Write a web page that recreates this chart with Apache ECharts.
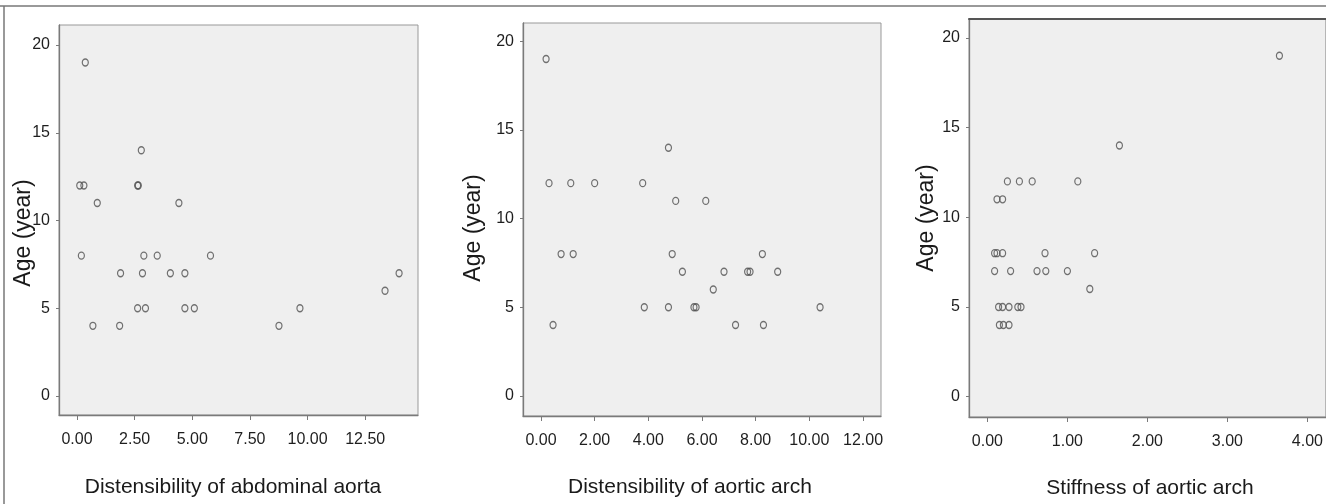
<!DOCTYPE html>
<html>
<head>
<meta charset="utf-8">
<script src="https://cdn.jsdelivr.net/npm/echarts@6/dist/echarts.min.js"></script>
<style>
  html, body { margin: 0; padding: 0; background: #fff; }
  #chart { width: 1326px; height: 504px; }
</style>
</head>
<body>
<div id="chart"></div>
<script>
const chart = echarts.init(document.getElementById("chart"));

// panel 1: distensibility of abdominal aorta vs age
const abdDist = [0.36, 0.12, 0.30, 2.63, 2.66, 0.88, 2.79, 4.42, 0.19, 2.90, 3.48, 5.79, 1.89, 2.84, 4.05, 4.68, 13.97, 13.36, 2.63, 2.97, 4.68, 5.09, 9.67, 0.69, 1.85, 8.76];
const abdAge = [19, 12, 12, 12, 12, 11, 14, 11, 8, 8, 8, 8, 7, 7, 7, 7, 7, 6, 5, 5, 5, 5, 5, 4, 4, 4];

// panel 2: distensibility of aortic arch vs age
const archDist = [0.19, 0.30, 1.11, 2.00, 3.79, 4.75, 5.02, 6.14, 0.75, 1.20, 4.89, 8.25, 5.27, 6.82, 7.70, 7.79, 8.82, 6.42, 3.85, 4.75, 5.70, 5.78, 10.40, 0.45, 7.25, 8.29];
const archAge = [19, 12, 12, 12, 12, 14, 11, 11, 8, 8, 8, 8, 7, 7, 7, 7, 7, 6, 5, 5, 5, 5, 5, 4, 4, 4];

// panel 3: stiffness of aortic arch vs age
const archStiff = [3.65, 1.65, 0.25, 0.40, 0.56, 1.13, 0.12, 0.19, 0.09, 0.12, 0.19, 0.72, 1.34, 0.09, 0.29, 0.62, 0.73, 1.00, 1.28, 0.14, 0.19, 0.27, 0.38, 0.42, 0.15, 0.20, 0.27];
const stiffAge = [19, 14, 12, 12, 12, 12, 11, 11, 8, 8, 8, 8, 8, 7, 7, 7, 7, 7, 6, 5, 5, 5, 5, 5, 4, 4, 4];

// tick labels
const abdTicks = [0, 2.5, 5, 7.5, 10, 12.5];
const archTicks = [0, 2, 4, 6, 8, 10, 12];
const stiffTicks = [0, 1, 2, 3, 4];
const ageTicks = [0, 5, 10, 15, 20];

const xTitles = ["Distensibility of abdominal aorta", "Distensibility of aortic arch", "Stiffness of aortic arch"];
const yTitle = "Age (year)";

const font = "'Liberation Sans', Arial, sans-serif";

function pairs(xs, ys) {
  return xs.map((x, i) => [x, ys[i]]);
}

function xAxisFor(idx, min, max, ticks) {
  return {
    type: "value",
    gridIndex: idx,
    min: min,
    max: max,
    axisLine: { show: true, onZero: false, lineStyle: { color: "#7a7a7a", width: 1.3 } },
    axisTick: { show: true, length: 5, customValues: ticks, lineStyle: { color: "#7a7a7a" } },
    axisLabel: {
      customValues: ticks,
      margin: 17,
      fontSize: 16,
      fontFamily: font,
      color: "#1e1e1e",
      formatter: (v) => v.toFixed(2),
    },
    splitLine: { show: false },
  };
}

function yAxisFor(idx, min, max) {
  return {
    type: "value",
    gridIndex: idx,
    min: min,
    max: max,
    axisLine: { show: true, onZero: false, lineStyle: { color: "#7a7a7a", width: 1.3 } },
    axisTick: { show: true, length: 3, customValues: ageTicks, lineStyle: { color: "#7a7a7a" } },
    axisLabel: {
      customValues: ageTicks,
      margin: 9,
      fontSize: 16,
      fontFamily: font,
      color: "#1e1e1e",
    },
    splitLine: { show: false },
  };
}

function scatterFor(idx, data) {
  return {
    type: "scatter",
    xAxisIndex: idx,
    yAxisIndex: idx,
    data: data,
    symbol: "circle",
    symbolSize: [6, 7],
    itemStyle: { color: "rgba(0,0,0,0)", borderColor: "#505050", borderWidth: 1.3 },
    emphasis: { disabled: true },
  };
}

const gridBox = {
  show: true,
  backgroundColor: "#efefef",
  borderColor: "#999",
  borderWidth: 1,
};

function textEl(x, y, text, rotate, size) {
  return {
    type: "text",
    x: x,
    y: y,
    rotation: rotate ? Math.PI / 2 : 0,
    style: {
      text: text,
      fontSize: size,
      fontFamily: font,
      fill: "#1a1a1a",
      textAlign: "center",
      textVerticalAlign: "middle",
    },
  };
}

const option = {
  backgroundColor: "#fff",
  animation: false,
  grid: [
    Object.assign({ left: 59, top: 25, width: 359, height: 390 }, gridBox),
    Object.assign({ left: 523, top: 23, width: 358, height: 393 }, gridBox),
    Object.assign({ left: 969, top: 19, width: 362, height: 398 }, gridBox),
  ],
  xAxis: [
    xAxisFor(0, -0.78, 14.79, abdTicks),
    xAxisFor(1, -0.67, 12.67, archTicks),
    xAxisFor(2, -0.23, 4.23, stiffTicks),
    {
      // darker top edge on the third panel
      type: "value",
      gridIndex: 2,
      position: "top",
      min: -0.23,
      max: 4.23,
      axisLine: { show: true, onZero: false, lineStyle: { color: "#555", width: 2 } },
      axisTick: { show: false },
      axisLabel: { show: false },
      splitLine: { show: false },
    },
  ],
  yAxis: [
    yAxisFor(0, -1.08, 21.14),
    yAxisFor(1, -1.13, 21.03),
    yAxisFor(2, -1.13, 21.05),
  ],
  series: [
    scatterFor(0, pairs(abdDist, abdAge)),
    scatterFor(1, pairs(archDist, archAge)),
    scatterFor(2, pairs(archStiff, stiffAge)),
  ],
  graphic: [
    // figure frame
    { type: "line", shape: { x1: 0, y1: 6, x2: 1326, y2: 6 }, style: { stroke: "#777", lineWidth: 1.5 } },
    { type: "line", shape: { x1: 4, y1: 6, x2: 4, y2: 504 }, style: { stroke: "#777", lineWidth: 1.5 } },
    textEl(233, 487, xTitles[0], false, 21),
    textEl(690, 487, xTitles[1], false, 21),
    textEl(1150, 488, xTitles[2], false, 21),
    textEl(24, 233, yTitle, true, 23),
    textEl(474, 228, yTitle, true, 23),
    textEl(927, 218, yTitle, true, 23),
  ],
};

chart.setOption(option);
</script>
</body>
</html>
